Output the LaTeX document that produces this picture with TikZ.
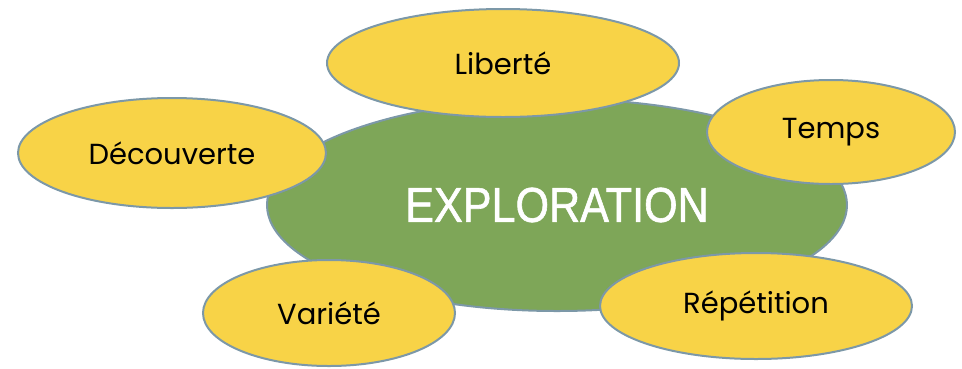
\documentclass[tikz,border=0pt]{standalone}
\usepackage{fontspec}
\setmainfont{Poppins}
\newfontfamily\bigfont[FakeStretch=0.88,FakeBold=1.2]{Liberation Sans}
\usetikzlibrary{shapes.geometric}
\definecolor{ybox}{HTML}{F8D347}
\definecolor{gbox}{HTML}{7EA658}
\definecolor{edgec}{HTML}{7C98A8}
\tikzset{
  petal/.style={ellipse, fill=ybox, draw=edgec, line width=2pt, inner sep=0pt, font=\fontsize{29}{33}\selectfont},
  core/.style={ellipse, fill=gbox, draw=edgec, line width=2pt, inner sep=0pt, text=white, font=\bigfont\fontsize{49}{56}\selectfont}
}
\begin{document}
\begin{tikzpicture}[x=1pt,y=-1pt]
\useasboundingbox (0,0) rectangle (962,368);
\node[core, minimum width=580pt, minimum height=212pt] (c) at (557,205) {EXPLORATION};
\node[petal, minimum width=352pt, minimum height=108pt] (lib) at (503,63) {Liberté};
\node[petal, minimum width=248pt, minimum height=104pt] (tem) at (831,132) {Temps};
\node[petal, minimum width=308pt, minimum height=110pt] (dec) at (172,153) {Découverte};
\node[petal, minimum width=252pt, minimum height=106pt] (var) at (329,313) {Variété};
\node[petal, minimum width=312pt, minimum height=106pt] (rep) at (756,306) {Répétition};
\end{tikzpicture}
\end{document}
